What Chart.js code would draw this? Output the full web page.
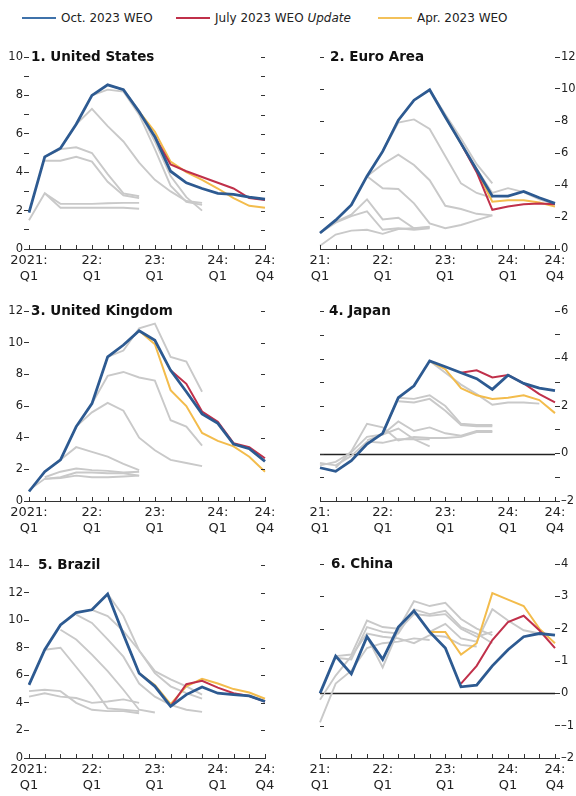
<!DOCTYPE html>
<html><head><meta charset="utf-8">
<script src="https://cdn.jsdelivr.net/npm/chart.js@4.4.0/dist/chart.umd.min.js"></script>
<style>
body{margin:0;width:576px;height:796px;background:#fff;position:relative;overflow:hidden;font-family:"DejaVu Sans",sans-serif;}
.leg{position:absolute;top:10px;height:16px;font-size:12px;color:#222;display:flex;align-items:center;white-space:nowrap}
.sw{display:inline-block;width:34px;height:2.5px;margin-right:5px}
canvas{position:absolute}
</style></head><body>
<div class="leg" style="left:22px"><span class="sw" style="background:#3f72aa"></span>Oct. 2023 WEO</div>
<div class="leg" style="left:176px"><span class="sw" style="background:#c0304a"></span>July 2023 WEO&nbsp;<i>Update</i></div>
<div class="leg" style="left:378px"><span class="sw" style="background:#f3c15a"></span>Apr. 2023 WEO</div>
<canvas id="c1" width="290" height="251" style="left:0;top:45px"></canvas>
<canvas id="c2" width="286" height="251" style="left:290px;top:45px"></canvas>
<canvas id="c3" width="290" height="251" style="left:0;top:298px"></canvas>
<canvas id="c4" width="286" height="251" style="left:290px;top:298px"></canvas>
<canvas id="c5" width="290" height="243" style="left:0;top:553px"></canvas>
<canvas id="c6" width="286" height="243" style="left:290px;top:553px"></canvas>
<script>
// ---------- data ----------
const quarters = ['2021Q1','2021Q2','2021Q3','2021Q4','2022Q1','2022Q2','2022Q3','2022Q4','2023Q1','2023Q2','2023Q3','2023Q4','2024Q1','2024Q2','2024Q3','2024Q4'];
const xLabelsLong  = [['2021:','Q1'],'','','',['22:','Q1'],'','','',['23:','Q1'],'','','',['24:','Q1'],'','',['24:','Q4']];
const xLabelsShort = [['21:','Q1'],'','','',['22:','Q1'],'','','',['23:','Q1'],'','','',['24:','Q1'],'','',['24:','Q4']];
const N = null;

// 1. United States
const usOct = [1.9,4.8,5.25,6.5,8.0,8.55,8.3,7.15,5.85,4.05,3.45,3.15,2.9,2.85,2.7,2.6];
const usJul = [N,N,N,N,N,N,N,N,5.85,4.4,4.05,3.75,3.45,3.15,2.65,2.55];
const usApr = [N,N,N,N,N,N,N,7.15,6.1,4.55,4.0,3.6,3.15,2.65,2.25,2.15];
const usPast = [
  [1.5,2.9,2.15,2.15,2.15,2.15,2.15,2.1],
  [N,2.9,2.35,2.35,2.35,2.38,2.4,2.4],
  [N,4.6,4.6,4.8,4.55,3.5,2.8,2.65],
  [N,4.8,5.2,5.3,5.0,3.9,2.9,2.75],
  [N,N,N,6.5,7.3,6.4,5.6,4.5,3.6,3.0,2.5,2.4],
  [N,N,N,N,8.0,8.3,8.2,7.0,5.2,3.3,2.45,2.3],
  [N,N,N,N,N,8.55,8.3,7.2,5.6,3.8,2.7,2.0]
];
// 2. Euro Area
const eaOct = [1.0,1.8,2.75,4.55,6.1,8.05,9.3,9.95,8.25,6.6,4.95,3.3,3.3,3.6,3.2,2.85];
const eaJul = [N,N,N,N,N,N,N,N,N,6.6,4.8,2.45,2.65,2.8,2.85,2.8];
const eaApr = [N,N,N,N,N,N,N,N,8.25,6.6,4.9,2.95,3.05,3.05,2.9,2.65];
const eaPast = [
  [0.2,0.9,1.15,1.2,0.95,1.25,1.3,1.35],
  [1.0,1.65,2.05,2.35,1.2,1.3,1.2,1.3],
  [1.0,1.7,2.15,3.1,1.85,1.95,1.3,1.4],
  [N,N,N,4.55,3.8,3.75,2.85,1.6,1.3,1.5,1.8,2.1],
  [N,N,N,4.55,5.3,5.9,5.25,4.3,2.7,2.5,2.2,2.1],
  [N,N,N,N,6.1,7.9,8.1,7.5,5.8,4.1,3.5,3.2],
  [N,N,N,N,N,N,N,9.95,8.4,6.9,5.3,4.1],
  [N,N,N,N,N,N,N,N,N,N,5.0,3.5,3.8,3.55,3.1,2.8]
];
// 3. United Kingdom
const ukOct = [0.6,1.85,2.6,4.7,6.15,9.1,9.85,10.75,10.15,8.25,6.9,5.5,4.9,3.6,3.3,2.5];
const ukJul = [N,N,N,N,N,N,N,N,N,8.25,7.4,5.65,5.0,3.65,3.4,2.7];
const ukApr = [N,N,N,N,N,N,N,10.75,9.9,7.0,6.0,4.3,3.8,3.45,2.8,1.85];
const ukPast = [
  [0.7,1.4,1.5,1.8,1.8,1.75,1.75,1.6],
  [N,1.4,1.45,1.6,1.5,1.5,1.55,1.6],
  [N,1.5,1.85,2.05,1.95,1.9,1.8,1.85],
  [N,1.85,2.6,3.4,3.1,2.8,2.35,1.95],
  [N,N,N,4.7,5.6,6.2,5.7,4.0,3.2,2.6,2.4,2.2],
  [N,N,N,N,6.15,7.9,8.15,7.8,7.6,5.1,4.7,3.5],
  [N,N,N,N,N,9.1,9.5,10.9,11.2,9.1,8.8,6.9]
];
// 4. Japan
const jpOct = [-0.6,-0.75,-0.3,0.4,0.85,2.35,2.85,3.9,3.65,3.4,3.15,2.7,3.3,2.95,2.75,2.65];
const jpJul = [N,N,N,N,N,N,N,N,N,3.4,3.5,3.2,3.3,2.95,2.5,2.15];
const jpApr = [N,N,N,N,N,N,N,3.9,3.55,2.75,2.45,2.3,2.35,2.45,2.25,1.7];
const jpPast = [
  [-0.4,-0.5,-0.1,0.5,0.45,0.6,0.6,0.6],
  [-0.5,-0.35,0.05,0.7,0.8,1.05,0.6,0.3],
  [N,-0.6,0.1,1.25,1.1,0.55,0.7,0.65,0.65,0.7,0.9,0.9],
  [N,N,N,0.55,0.8,1.35,0.95,1.1,0.85,0.75,0.95,0.95],
  [N,N,N,N,0.85,2.35,2.3,2.45,2.0,1.25,1.2,1.2],
  [N,N,N,N,N,2.2,2.15,2.3,1.8,1.2,1.15,1.15],
  [N,N,N,N,N,N,N,3.9,3.4,2.9,2.5,2.05,2.15,2.15,2.1]
];
// 5. Brazil
const brOct = [5.3,7.85,9.65,10.55,10.75,11.9,8.95,6.15,5.2,3.75,4.6,5.15,4.7,4.6,4.5,4.1];
const brJul = [N,N,N,N,N,N,N,N,N,3.75,5.35,5.6,5.1,4.7,4.5,4.1];
const brApr = [N,N,N,N,N,N,N,6.15,5.3,3.9,5.2,5.75,5.4,5.0,4.75,4.3];
const brPast = [
  [4.85,4.95,4.85,4.0,3.5,3.4,3.4,3.25],
  [4.45,4.7,4.45,4.35,4.0,4.1,4.25,4.0],
  [N,7.85,8.0,6.6,5.2,3.6,3.5,3.4],
  [N,N,9.3,8.6,7.5,6.3,4.95,3.5,3.3],
  [N,N,N,10.4,9.8,8.6,7.35,5.4,4.45,3.85,3.5,3.35],
  [N,N,N,N,10.75,10.3,9.2,7.8,6.15,5.2,4.7,4.3],
  [N,N,N,N,N,11.9,10.3,7.8,6.3,5.7,5.2,4.6]
];
// 6. China
const cnOct = [0.0,1.15,0.6,1.75,1.05,2.05,2.55,1.9,1.4,0.2,0.25,0.85,1.35,1.75,1.85,1.8];
const cnJul = [N,N,N,N,N,N,N,N,N,0.3,0.85,1.65,2.2,2.4,1.95,1.4];
const cnApr = [N,N,N,N,N,N,N,1.9,1.9,1.2,1.55,3.1,2.9,2.7,2.0,1.55];
const cnPast = [
  [-0.9,0.3,0.7,1.4,1.55,1.6,1.7,1.65],
  [-0.2,0.55,1.15,1.85,1.75,1.7,1.55,1.8,1.75,1.5,1.45],
  [N,1.15,1.2,2.25,2.05,2.0,2.85,2.7,2.8,2.3,2.0,1.8],
  [N,1.1,1.05,2.05,1.9,1.85,2.6,2.45,2.55,2.05,1.85,1.55],
  [N,N,N,1.75,0.8,1.95,2.45,2.4,2.45,2.0,1.75,1.9],
  [N,N,N,N,N,N,N,1.9,2.15,1.7,1.6,2.6,2.25,1.95,1.85]
];

// ---------- styling / layout ----------
const COL = {oct:'#2d5a91', jul:'#c0304a', apr:'#f3bc4c', past:'#c9c9c9'};
const FONT = '"DejaVu Sans", sans-serif';

const panels = [
  {id:'c1', title:'1. United States', side:'left', tx:2, oct:usOct, jul:usJul, apr:usApr, past:usPast, min:0, max:10, step:1, lab:2, pad:{top:12,left:0,right:25}, xh:47, zero:false},
  {id:'c2', title:'2. Euro Area', side:'right', tx:10, oct:eaOct, jul:eaJul, apr:eaApr, past:eaPast, min:0, max:12, step:1, lab:2, pad:{top:12,left:30,right:0}, xh:47, zero:false},
  {id:'c3', title:'3. United Kingdom', side:'left', tx:2, oct:ukOct, jul:ukJul, apr:ukApr, past:ukPast, min:0, max:12, step:1, lab:2, pad:{top:13,left:0,right:25}, xh:48, zero:false},
  {id:'c4', title:'4. Japan', side:'right', tx:9, oct:jpOct, jul:jpJul, apr:jpApr, past:jpPast, min:-2, max:6, step:1, lab:2, pad:{top:13,left:30,right:0}, xh:48, zero:true},
  {id:'c5', title:'5. Brazil', side:'left', tx:9, oct:brOct, jul:brJul, apr:brApr, past:brPast, min:0, max:14, step:1, lab:2, pad:{top:12,left:0,right:25}, xh:38, zero:false},
  {id:'c6', title:'6. China', side:'right', tx:11, oct:cnOct, jul:cnJul, apr:cnApr, past:cnPast, min:-2, max:4, step:0.5, lab:1, pad:{top:11,left:30,right:0}, xh:38, zero:true}
];

const decor = {
  id:'decor',
  beforeDatasetsDraw(chart, args, o){
    if(!o.zero) return;
    const {ctx, chartArea:a, scales:{y}} = chart;
    const pz = Math.round(y.getPixelForValue(0)) + 0.5;
    ctx.save(); ctx.strokeStyle='#222'; ctx.lineWidth=1.3;
    ctx.beginPath(); ctx.moveTo(a.left,pz); ctx.lineTo(a.right,pz); ctx.stroke(); ctx.restore();
  },
  afterDraw(chart, args, o){
    const {ctx, chartArea:a, scales:{x,y}} = chart;
    ctx.save(); ctx.strokeStyle='#333'; ctx.lineWidth=1;
    y.ticks.forEach(t=>{
      const py = Math.round(y.getPixelForValue(t.value)) + 0.5;
      ctx.beginPath();
      if(o.side==='left'){ ctx.moveTo(a.right-4,py); ctx.lineTo(a.right,py); }
      else { ctx.moveTo(a.left,py); ctx.lineTo(a.left+4,py); }
      ctx.stroke();
    });
    for(let i=0;i<x.ticks.length;i++){
      const px = Math.round(x.getPixelForTick(i)) + 0.5;
      ctx.beginPath(); ctx.moveTo(px,a.bottom); ctx.lineTo(px,a.bottom-4); ctx.stroke();
    }
    ctx.font = 'bold 13.5px ' + FONT; ctx.fillStyle='#111'; ctx.textBaseline='middle'; ctx.textAlign='left';
    ctx.fillText(o.title, a.left + o.tx, a.top);
    ctx.restore();
  }
};

panels.forEach(p=>{
  const ds = [
    {data:p.oct, borderColor:COL.oct, borderWidth:2.8},
    {data:p.jul, borderColor:COL.jul, borderWidth:2},
    {data:p.apr, borderColor:COL.apr, borderWidth:2}
  ].concat(p.past.map(v=>({data:v, borderColor:COL.past, borderWidth:1.9})));
  ds.forEach(d=>{ d.pointRadius=0; d.tension=0; d.fill=false; d.spanGaps=false; });
  const xl = p.side==='left' ? xLabelsLong : xLabelsShort;
  new Chart(document.getElementById(p.id), {
    type:'line',
    data:{labels:quarters, datasets:ds},
    plugins:[decor],
    options:{
      responsive:false, animation:false, devicePixelRatio:1,
      layout:{padding:{top:p.pad.top, left:p.pad.left, right:p.pad.right, bottom:0}},
      plugins:{legend:{display:false}, tooltip:{enabled:false}, title:{display:false},
               decor:{side:p.side, title:p.title, tx:p.tx, zero:p.zero}},
      scales:{
        x:{
          grid:{display:false, drawTicks:false}, border:{display:true, color:'#333', width:1},
          ticks:{autoSkip:false, maxRotation:0, minRotation:0, padding:4, color:'#222',
                 font:{family:FONT, size:13, lineHeight:1.2},
                 callback:(v,i)=>xl[i]},
          afterFit:s=>{ s.height = p.xh; }
        },
        y:{
          position:p.side, min:p.min, max:p.max,
          grid:{display:true, drawOnChartArea:false, drawTicks:true, tickLength:5, color:'#333'},
          border:{display:false},
          ticks:{stepSize:p.step, padding:1, color:'#222', font:{family:FONT, size:11.5},
                 callback:v=>{
                   const r = Math.round(v*100)/100;
                   if(Math.abs(r/p.lab - Math.round(r/p.lab))>1e-6) return '';
                   return r<0 ? '\u2013'+Math.abs(r) : String(r);
                 }},
          afterFit:s=>{ s.width = p.side==='left' ? 29 : 21; }
        }
      }
    }
  });
});
</script>
</body></html>
